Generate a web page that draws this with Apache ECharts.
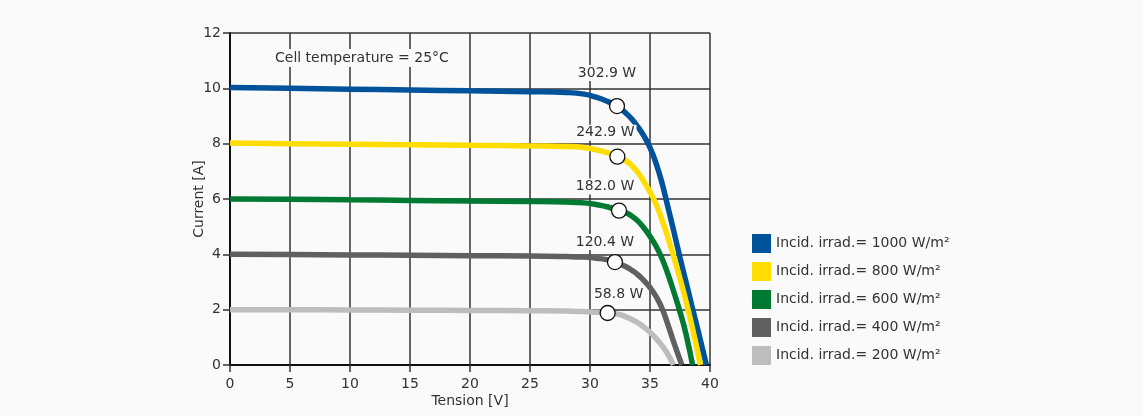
<!DOCTYPE html>
<html>
<head>
<meta charset="utf-8">
<script src="https://cdn.jsdelivr.net/npm/echarts@6/dist/echarts.min.js"></script>
<style>
html,body{margin:0;padding:0;background:#fafafa;}
#chart{width:1143px;height:416px;}
</style>
</head>
<body>
<div id="chart"></div>
<script>
// ---- Data ----
const seriesNames = [
  'Incid. irrad.= 1000 W/m²',
  'Incid. irrad.= 800 W/m²',
  'Incid. irrad.= 600 W/m²',
  'Incid. irrad.= 400 W/m²',
  'Incid. irrad.= 200 W/m²'
];
const xTicks = [0, 5, 10, 15, 20, 25, 30, 35, 40];
const yTicks = [0, 2, 4, 6, 8, 10, 12];

const voltage1000 = [0, 5, 10, 15, 20, 25, 28, 29.5, 30.5, 31.5, 32.25, 33, 33.5, 34, 34.5, 35, 35.5, 36, 36.5, 37, 37.5, 38, 38.5, 39, 39.7];
const current1000 = [10.03, 10.0, 9.97, 9.94, 9.91, 9.88, 9.85, 9.79, 9.68, 9.52, 9.36, 9.1, 8.88, 8.6, 8.27, 7.86, 7.3, 6.58, 5.7, 4.8, 3.88, 3.0, 2.12, 1.25, 0];

const voltage800 = [0, 5, 10, 15, 20, 25, 28, 29.5, 30.5, 31.5, 32.28, 33, 33.5, 34, 34.5, 35, 35.5, 36, 36.5, 37, 37.5, 38, 38.5, 39.2];
const current800 = [8.02, 8.0, 7.98, 7.96, 7.94, 7.92, 7.9, 7.86, 7.78, 7.67, 7.53, 7.38, 7.2, 6.95, 6.62, 6.25, 5.82, 5.25, 4.6, 3.88, 3.12, 2.3, 1.4, 0];

const voltage600 = [0, 5, 10, 15, 20, 25, 28, 29.5, 30.5, 31.5, 32.42, 33, 33.5, 34, 34.5, 35, 35.5, 36, 36.5, 37, 37.5, 38, 38.55];
const current600 = [6.0, 5.99, 5.97, 5.95, 5.93, 5.91, 5.89, 5.86, 5.8, 5.71, 5.58, 5.5, 5.38, 5.2, 4.95, 4.65, 4.3, 3.85, 3.28, 2.62, 1.92, 1.12, 0];

const voltage400 = [0, 5, 10, 15, 20, 25, 28, 29.5, 30.5, 31.5, 32.08, 32.5, 33, 33.5, 34, 34.5, 35, 35.5, 36, 36.5, 37, 37.65];
const current400 = [4.0, 3.99, 3.98, 3.97, 3.95, 3.94, 3.92, 3.9, 3.86, 3.8, 3.72, 3.65, 3.55, 3.42, 3.26, 3.05, 2.8, 2.48, 2.05, 1.45, 0.8, 0];

const voltage200 = [0, 5, 10, 15, 20, 25, 28, 29.5, 30.5, 31.47, 32, 32.5, 33, 33.5, 34, 34.5, 35, 35.5, 36, 36.5, 36.95];
const current200 = [2.0, 2.0, 1.99, 1.98, 1.97, 1.96, 1.95, 1.93, 1.91, 1.88, 1.86, 1.82, 1.74, 1.64, 1.52, 1.37, 1.18, 0.96, 0.7, 0.38, 0];

const mppVoltage = [32.25, 32.28, 32.42, 32.08, 31.47];
const mppCurrent = [9.36, 7.53, 5.58, 3.72, 1.88];
const mppLabels = ['302.9 W', '242.9 W', '182.0 W', '120.4 W', '58.8 W'];

const tempNote = 'Cell temperature = 25°C';

// ---- Styles ----
const colors = ['#00529b', '#ffdd00', '#007a33', '#606060', '#bdbdbd'];
const labelOffsets = [[-10, -33], [-12, -24], [-14, -24], [-10, -20], [11, -19]];
const FONT = 'DejaVu Sans';
const TXT = '#333';

function zip(xs, ys) { return xs.map((x, i) => [x, ys[i]]); }
const curves = [
  zip(voltage1000, current1000),
  zip(voltage800, current800),
  zip(voltage600, current600),
  zip(voltage400, current400),
  zip(voltage200, current200)
];

const lineSeries = curves.map((d, i) => ({
  name: seriesNames[i],
  type: 'line',
  data: d,
  smooth: 0.5,
  symbol: 'none',
  lineStyle: { color: colors[i], width: 5.5 },
  itemStyle: { color: colors[i] },
  z: 3
}));

const mppSeries = {
  name: 'MPP',
  type: 'scatter',
  symbol: 'circle',
  symbolSize: 15,
  itemStyle: { color: '#ffffff', borderColor: '#111', borderWidth: 1.3, opacity: 1 },
  z: 5,
  data: mppVoltage.map((v, i) => ({
    value: [v, mppCurrent[i]],
    label: {
      show: true,
      position: 'inside',
      offset: labelOffsets[i],
      formatter: mppLabels[i],
      fontSize: 14,
      fontFamily: FONT,
      color: TXT,
      opacity: 1,
      backgroundColor: '#fafafa',
      padding: [1, 2]
    }
  }))
};

const axisCommon = {
  type: 'value',
  nameLocation: 'middle',
  nameMoveOverlap: false,
  nameTextStyle: { fontSize: 14, color: TXT, fontFamily: FONT },
  axisLine: { show: true, onZero: false, lineStyle: { color: '#111', width: 2 } },
  axisTick: { show: true, length: 7, lineStyle: { color: '#333', width: 1.5 } },
  splitLine: { show: true, lineStyle: { color: '#333', width: 1.5 } }
};

const option = {
  backgroundColor: '#fafafa',
  animation: false,
  textStyle: { fontFamily: FONT },
  title: {
    text: tempNote,
    left: 272,
    top: 49,
    padding: [2, 3],
    backgroundColor: '#fafafa',
    textStyle: { fontSize: 14, fontWeight: 'normal', color: TXT, fontFamily: FONT }
  },
  grid: { left: 230, right: 433, top: 33, bottom: 51 },
  legend: {
    orient: 'vertical',
    left: 752,
    top: 234,
    padding: 0,
    itemWidth: 19,
    itemHeight: 19,
    itemGap: 9,
    selectedMode: false,
    data: seriesNames.map((n, i) => ({ name: n, icon: 'rect', itemStyle: { color: colors[i] } })),
    textStyle: { fontSize: 14, color: TXT, fontFamily: FONT }
  },
  xAxis: Object.assign({}, axisCommon, {
    min: xTicks[0],
    max: xTicks[xTicks.length - 1],
    interval: xTicks[1] - xTicks[0],
    name: 'Tension [V]',
    nameGap: 29,
    axisLabel: { margin: 12, fontSize: 14, color: TXT, fontFamily: FONT }
  }),
  yAxis: Object.assign({}, axisCommon, {
    min: yTicks[0],
    max: yTicks[yTicks.length - 1],
    interval: yTicks[1] - yTicks[0],
    name: 'Current [A]',
    nameGap: 24,
    axisLabel: { margin: 9, fontSize: 14, color: TXT, fontFamily: FONT }
  }),
  series: lineSeries.concat([mppSeries])
};

const chart = echarts.init(document.getElementById('chart'), null, { renderer: 'canvas' });
chart.setOption(option);
</script>
</body>
</html>
